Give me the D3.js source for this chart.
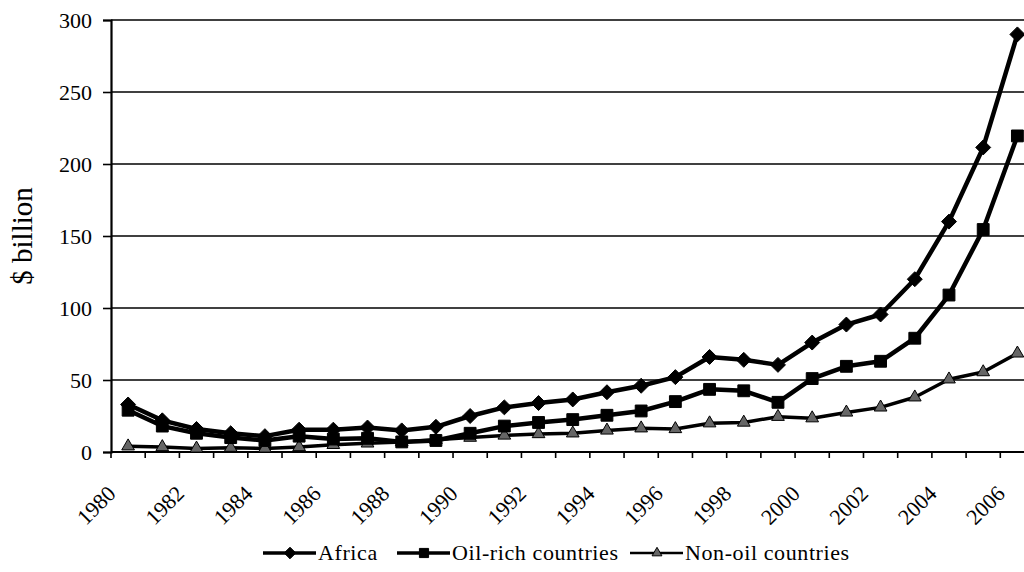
<!DOCTYPE html>
<html>
<head>
<meta charset="utf-8">
<script src="https://cdn.jsdelivr.net/npm/d3@7"></script>
<style>
  html, body { margin: 0; padding: 0; background: #fff; }
  svg { display: block; overflow: hidden; }
</style>
</head>
<body>
<div id="chart"></div>
<script>
// years on the category axis
const years = d3.range(1980, 2007);
const yearLabels = years.filter(y => y % 2 === 0);

// $ billion
const africa = [33, 22, 16, 13, 11, 15.5, 15.5, 17, 15, 17.5, 25, 31, 34, 36.5, 41.5, 46, 52, 66, 64, 60.5, 76, 88.5, 95.5, 120, 160, 211.5, 290];
const oilRich = [29, 18, 13, 10, 8, 11, 9, 9.5, 7, 8, 13, 18, 20.5, 22.5, 25.5, 28.5, 35, 43.5, 42.5, 34.5, 51, 59.5, 63, 79, 109, 154.5, 219.5];
const nonOil = [4, 3.5, 2.5, 3, 2.5, 3.5, 5, 6, 7, 8.5, 10, 11.5, 12.5, 13, 15, 16.5, 16, 20, 20.5, 24.5, 23.5, 27.5, 31, 38, 50.5, 55.5, 68.5];

const yTicks = [0, 50, 100, 150, 200, 250, 300];

// excel style diamond: as wide as it is tall
const squatDiamond = {
  draw(ctx, size) {
    const r = Math.sqrt(size / 2);
    ctx.moveTo(0, -r);
    ctx.lineTo(r, 0);
    ctx.lineTo(0, r);
    ctx.lineTo(-r, 0);
    ctx.closePath();
  }
};

const seriesNames = ["Africa", "Oil-rich countries", "Non-oil countries"];
const series = [
  {name: seriesNames[0], values: africa, shape: squatDiamond, size: 112, width: 4.5, fill: "#000"},
  {name: seriesNames[1], values: oilRich, shape: d3.symbolSquare, size: 140, width: 4.5, fill: "#000"},
  {name: seriesNames[2], values: nonOil, shape: d3.symbolTriangle, size: 70, width: 3.5, fill: "#666"}
];

const FONT = "Liberation Serif, DejaVu Serif, Liberation Sans, sans-serif";
const W = 1024, H = 572;
const P = {left: 111, top: 20, bottom: 452, right: 1034.5};

const svg = d3.select("#chart").append("svg")
  .attr("width", W)
  .attr("height", H)
  .style("font-family", FONT);

const x = d3.scaleBand()
  .domain(years)
  .range([P.left, P.right]);

const y = d3.scaleLinear()
  .domain([0, 300])
  .range([P.bottom, P.top]);

// horizontal gridlines
svg.append("g")
  .selectAll("line")
  .data(yTicks.filter(t => t > 0))
  .join("line")
  .attr("x1", P.left).attr("x2", W)
  .attr("y1", d => y(d)).attr("y2", d => y(d))
  .attr("stroke", "#000")
  .attr("stroke-width", 1.6);

// y axis
const yAxis = svg.append("g")
  .attr("transform", `translate(${P.left},0)`)
  .call(d3.axisLeft(y).tickValues(yTicks).tickSize(8).tickPadding(11));
yAxis.attr("font-family", null);
yAxis.select(".domain").attr("stroke-width", 2.2);
yAxis.selectAll(".tick line").attr("stroke-width", 1.6);
yAxis.selectAll(".tick text")
  .style("font-family", FONT)
  .style("font-size", "22px")
  .attr("dy", "0.34em");

// x axis: ticks at category boundaries
const xg = svg.append("g");
xg.append("line")
  .attr("x1", P.left).attr("x2", W)
  .attr("y1", P.bottom).attr("y2", P.bottom)
  .attr("stroke", "#000").attr("stroke-width", 2.2);
xg.selectAll("line.tick")
  .data(years)
  .join("line")
  .attr("class", "tick")
  .attr("x1", d => x(d)).attr("x2", d => x(d))
  .attr("y1", P.bottom).attr("y2", P.bottom + 6)
  .attr("stroke", "#000").attr("stroke-width", 1.6);
xg.selectAll("text")
  .data(yearLabels)
  .join("text")
  .attr("transform", d => `translate(${x(d) + x.bandwidth() / 2 - 11},${P.bottom + 43}) rotate(-45)`)
  .attr("text-anchor", "end")
  .style("font-family", FONT)
  .style("font-size", "22px")
  .text(d => d);

// y label
svg.append("text")
  .attr("transform", `translate(32,${(P.top + P.bottom) / 2}) rotate(-90)`)
  .attr("text-anchor", "middle")
  .style("font-family", FONT)
  .style("font-size", "29px")
  .text("$ billion");

// series
const line = d3.line()
  .x((d, i) => x(years[i]) + x.bandwidth() / 2)
  .y(d => y(d));

const sg = svg.append("g")
  .selectAll("g")
  .data(series.slice().reverse())
  .join("g");

sg.append("path")
  .attr("d", d => line(d.values))
  .attr("fill", "none")
  .attr("stroke", "#000")
  .attr("stroke-width", d => d.width)
  .attr("stroke-linejoin", "round");

sg.each(function (s) {
  d3.select(this).selectAll("path.mark")
    .data(s.values)
    .join("path")
    .attr("class", "mark")
    .attr("transform", (d, i) => `translate(${x(years[i]) + x.bandwidth() / 2},${y(d)})`)
    .attr("d", d3.symbol(s.shape, s.size))
    .attr("fill", s.fill)
    .attr("stroke", "#000")
    .attr("stroke-width", 1);
});

// legend
const legendX = [263, 397, 630];
const lg = svg.append("g")
  .selectAll("g")
  .data(series)
  .join("g")
  .attr("transform", (d, i) => `translate(${legendX[i]},553)`);
lg.append("line")
  .attr("x1", 0).attr("x2", 53)
  .attr("stroke", "#000")
  .attr("stroke-width", d => d.width - 1);
lg.append("path")
  .attr("transform", "translate(27,0)")
  .attr("d", d => d3.symbol(d.shape, d.size * 0.6)())
  .attr("fill", d => d.fill)
  .attr("stroke", "#000");
lg.append("text")
  .attr("x", 55)
  .attr("y", 7)
  .style("font-family", FONT)
  .style("font-size", "22px")
  .style("letter-spacing", "0.6px")
  .text(d => d.name);
</script>
</body>
</html>
